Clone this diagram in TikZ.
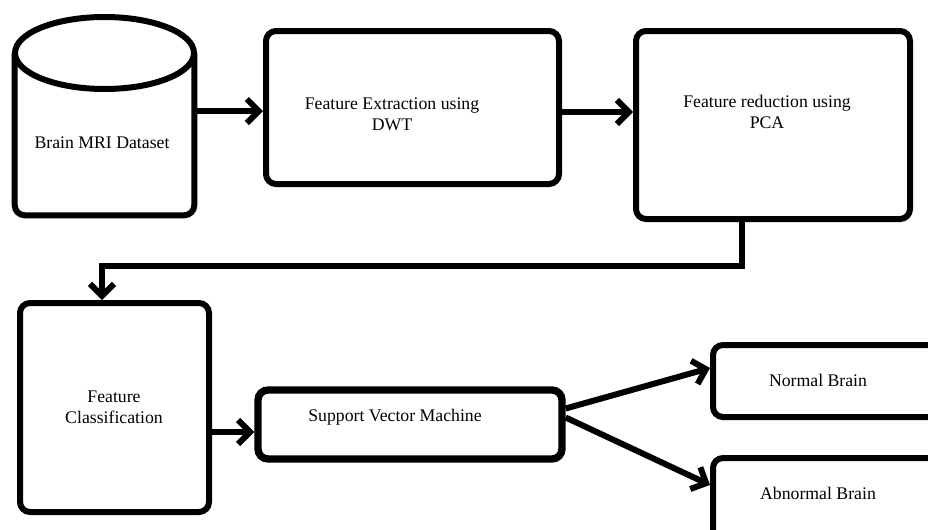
\documentclass[tikz,border=0pt]{standalone}
\usepackage{fontspec}
\setmainfont{Liberation Serif}
\usetikzlibrary{arrows.meta,calc}
\begin{document}
\begin{tikzpicture}[x=0.75pt,y=-0.75pt,
  box/.style={draw, line width=4.5pt, rounded corners=7.5pt, inner sep=0pt},
  txt/.style={font=\fontsize{13.3}{16}\selectfont, align=center, inner sep=0pt},
  arr/.style={line width=4.5pt, -{Straight Barb[length=9pt,width=18pt]}},
]
\useasboundingbox (0,0) rectangle (928,529);
\clip (0,0) rectangle (928,529);

% dataset (drawn as a cylinder around an invisible frame)
\node[minimum width=134.25pt, minimum height=148.5pt, inner sep=0pt] (mri) at (104.5,116) {};
\coordinate (mritop) at (104.5,53);
\draw[line width=4.5pt, rounded corners=7.5pt]
  (mri.west |- mritop) -- (mri.south west) -- (mri.south east) -- (mri.east |- mritop);
\draw[line width=4.5pt] (mritop) ellipse [x radius=67.1pt, y radius=27pt];
\node[txt] (mri-t) at (102,143) {Brain MRI Dataset};

% processing boxes
\node[box, minimum width=219.75pt, minimum height=114.75pt] (dwt) at (412.5,107.5) {};
\node[txt] (dwt-t) at (392,114) {Feature Extraction using\\DWT};

\node[box, minimum width=205.5pt, minimum height=141pt] (pca) at (773,125) {};
\node[txt] (pca-t) at (767,112) {Feature reduction using\\PCA};

\node[box, minimum width=141.75pt, minimum height=156.75pt] (fc) at (114.5,407.5) {};
\node[txt] (fc-t) at (114,407) {Feature\\Classification};

\node[box, line width=5.5pt, minimum width=228pt, minimum height=51.75pt] (svm) at (410,424.5) {};
\node[txt] (svm-t) at (395,417) {Support Vector Machine};

\node[box, minimum width=174pt, minimum height=54pt] (normal) at (829,381) {};
\node[txt] (normal-t) at (818,380) {Normal Brain};

\node[box, minimum width=174pt, minimum height=65.25pt] (abnormal) at (829,501.5) {};
\node[txt] (abnormal-t) at (818,493) {Abnormal Brain};

% connectors
\coordinate (mri-out) at (194,111);
\draw[arr] (mri-out) -- (mri-out -| dwt.west);
\draw[arr] ($(dwt.east)+(0,4.5)$) -- ($(pca.west)+(0,-13)$);
\coordinate (bend) at (742,266);
\draw[arr] ($(pca.south)+(-31,0)$) -- (bend) -| ($(fc.north)+(-12.5,0)$);
\draw[arr] ($(fc.east)+(0,24.5)$) -- ($(svm.west)+(0,7.5)$);
\draw[arr] ($(svm.east)+(0,-16)$) -- ($(normal.west)+(0,-13)$);
\draw[arr] ($(svm.east)+(0,-7)$) -- ($(abnormal.west)+(0,-16.5)$);
\end{tikzpicture}
\end{document}
